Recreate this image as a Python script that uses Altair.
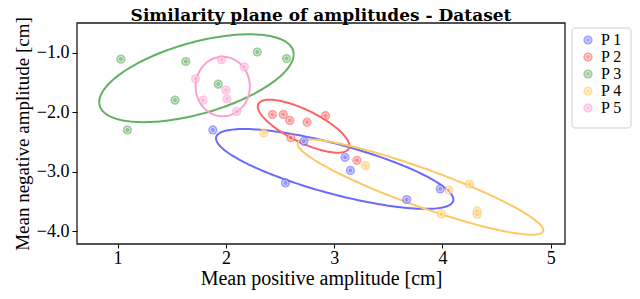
import altair as alt
import pandas as pd
import numpy as np

title_text = "Similarity plane of amplitudes - Dataset"
groups = ["P 1", "P 2", "P 3", "P 4", "P 5"]
colors = ["#6a6aff", "#ff6464", "#62b062", "#ffc864", "#ff9fd0"]

# points (mean positive, mean negative amplitude)
p1_x = [1.88, 2.72, 3.10, 3.15, 2.55, 3.67, 3.98]
p1_y = [-2.30, -2.49, -2.76, -2.98, -3.19, -3.47, -3.29]
p2_x = [2.43, 2.53, 2.59, 2.75, 2.92, 2.60, 3.21]
p2_y = [-2.04, -2.04, -2.14, -2.17, -2.06, -2.43, -2.81]
p3_x = [1.03, 1.63, 2.29, 2.56, 1.93, 1.53, 1.09]
p3_y = [-1.11, -1.15, -0.99, -1.10, -1.53, -1.80, -2.30]
p4_x = [2.35, 3.29, 4.06, 4.25, 3.99, 4.32, 4.32]
p4_y = [-2.35, -2.90, -3.31, -3.21, -3.71, -3.66, -3.72]
p5_x = [1.96, 2.17, 1.72, 2.00, 2.01, 1.79, 2.10]
p5_y = [-1.12, -1.24, -1.44, -1.63, -1.78, -1.80, -1.99]

# ellipses: centre, variance-like shape terms (sxx, sxy, syy)
ell_cx = [3.005, 2.718, 1.728, 3.797, 1.971]
ell_cy = [-2.955, -2.237, -1.431, -3.260, -1.570]
ell_sxx = [1.201, 0.179, 0.806, 1.288, 0.0625]
ell_sxy = [-0.563, -0.140, 0.360, -0.823, 0.0]
ell_syy = [0.450, 0.198, 0.545, 0.640, 0.250]

xs = [p1_x, p2_x, p3_x, p4_x, p5_x]
ys = [p1_y, p2_y, p3_y, p4_y, p5_y]
pts = pd.DataFrame(
    [{"g": g, "x": x, "y": y} for g, xl, yl in zip(groups, xs, ys) for x, y in zip(xl, yl)]
)
leg = pd.DataFrame({"g": groups})

t = np.linspace(0, 2 * np.pi, 181)
rows = []
for g, cx, cy, a, b, c in zip(groups, ell_cx, ell_cy, ell_sxx, ell_sxy, ell_syy):
    L = np.linalg.cholesky(np.array([[a, b], [b, c]]))
    uv = L @ np.vstack([np.cos(t), np.sin(t)])
    for i in range(len(t)):
        rows.append({"g": g, "x": cx + uv[0, i], "y": cy + uv[1, i], "o": i})
ell = pd.DataFrame(rows)

font = "Liberation Serif"
W, H = 488, 221
xsc = alt.Scale(domain=[0.625, 5.132], nice=False, zero=False)
ysc = alt.Scale(domain=[-4.216, -0.503], nice=False, zero=False)
csc = alt.Scale(domain=groups, range=colors)
lsc = alt.Scale(type="point", domain=groups, range=[17, 85], padding=0)

xax = alt.Axis(values=[1, 2, 3, 4, 5], format="d", title="Mean positive amplitude [cm]",
               grid=False, tickColor="black", domain=False, labelFontSize=18,
               titleFontSize=20, labelFont=font, titleFont=font, labelColor="black",
               titleColor="black", titleFontWeight="normal", tickSize=4, labelPadding=1,
               titlePadding=1)
yax = alt.Axis(values=[-1.0, -1.5, -2.0, -2.5, -3.0, -3.5, -4.0], format=".1f",
               title="Mean negative amplitude [cm]", grid=False, tickColor="black",
               domain=False, labelFontSize=18, titleFontSize=19, labelFont=font,
               titleFont=font, labelColor="black", titleColor="black",
               titleFontWeight="normal", tickSize=5, labelPadding=3, titlePadding=4)

lines = alt.Chart(ell).mark_line(strokeWidth=2, clip=True).encode(
    x=alt.X("x:Q", scale=xsc, axis=xax),
    y=alt.Y("y:Q", scale=ysc, axis=yax),
    stroke=alt.Stroke("g:N", scale=csc, legend=None),
    detail="g:N",
    order="o:Q",
)

dots = alt.Chart(pts).mark_circle(size=85, opacity=0.62).encode(
    x=alt.X("x:Q", scale=xsc),
    y=alt.Y("y:Q", scale=ysc),
    fill=alt.Fill("g:N", scale=csc, legend=None),
)

rings = alt.Chart(pts).mark_point(filled=False, size=24, opacity=0.85, strokeWidth=0.8,
                                  color="white").encode(
    x=alt.X("x:Q", scale=xsc),
    y=alt.Y("y:Q", scale=ysc),
)

crosses = alt.Chart(pts).mark_point(shape="cross", filled=False, size=10, opacity=0.6,
                                    strokeWidth=0.6).encode(
    x=alt.X("x:Q", scale=xsc),
    y=alt.Y("y:Q", scale=ysc),
    stroke=alt.Stroke("g:N", scale=csc, legend=None),
)

frame = alt.Chart(pd.DataFrame({"k": [0]})).mark_rect(
    fillOpacity=0, stroke="#1a1a1a", strokeWidth=1.3
).encode(x=alt.value(0), x2=alt.value(W), y=alt.value(0), y2=alt.value(H))

title = alt.Chart(pd.DataFrame({"k": [0]})).mark_text(
    text=title_text, font="DejaVu Serif", fontSize=17, fontWeight="bold", color="black",
    align="center", baseline="middle"
).encode(x=alt.value(W / 2), y=alt.value(-7))

# legend (frame, symbols and labels)
leg_box = alt.Chart(pd.DataFrame({"k": [0]})).mark_rect(
    fill="white", stroke="#d0d0d0", strokeWidth=1, cornerRadius=3
).encode(x=alt.value(495), x2=alt.value(554), y=alt.value(5), y2=alt.value(105))

leg_sym = alt.Chart(leg).mark_circle(size=85, opacity=0.62).encode(
    x=alt.value(511),
    y=alt.Y("g:N", scale=lsc, axis=None),
    fill=alt.Fill("g:N", scale=csc, legend=None),
)
leg_ring = alt.Chart(leg).mark_point(filled=False, size=24, opacity=0.85, strokeWidth=0.8,
                                     color="white").encode(
    x=alt.value(511),
    y=alt.Y("g:N", scale=lsc, axis=None),
)
leg_txt = alt.Chart(leg).mark_text(font=font, fontSize=16, color="black", align="left",
                                   baseline="middle").encode(
    x=alt.value(524),
    y=alt.Y("g:N", scale=lsc, axis=None),
    text="g:N",
)

main = alt.layer(lines, dots, rings, crosses, frame, title)
legend = alt.layer(leg_box, leg_sym, leg_ring, leg_txt)

chart = alt.layer(main, legend).resolve_scale(y="independent").properties(
    width=W, height=H,
    autosize=alt.AutoSizeParams(type="none"),
    padding={"left": 69, "top": 15, "right": 67, "bottom": 47},
    background="white",
).configure_view(strokeWidth=0)

chart.save("out.html", embed_options={"renderer": "svg", "actions": False})
